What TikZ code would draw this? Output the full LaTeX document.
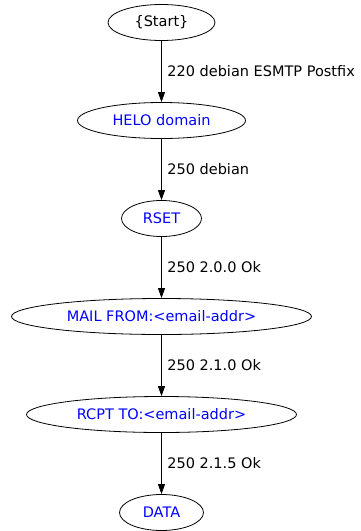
\documentclass[tikz,border=0pt]{standalone}
\usepackage{fontspec}
\setmainfont{DejaVu Sans}
\usetikzlibrary{shapes.geometric,arrows.meta}
\begin{document}
\begin{tikzpicture}[x=1pt,y=-1pt,
		trangthai/.style={draw,ellipse,inner sep=0pt,minimum height=36pt,line width=0.8pt,text=blue,font=\fontsize{14.5}{16}\selectfont},
		phanhoi/.style={anchor=west,inner sep=0pt,xshift=5.5pt,font=\fontsize{14.5}{16}\selectfont},
		muiten/.style={-{Triangle[length=10pt,width=7pt]},line width=0.8pt}]
				\useasboundingbox (0,0) rectangle (360,531);
				% Các trạng thái
				\node[trangthai,minimum width=107pt,text=black] (start) at (161.5,22.5) {\{Start\}};
				\node[trangthai,minimum width=168pt] (helo) at (161.5,120.5) {HELO domain};
				\node[trangthai,minimum width=80pt] (rset) at (161.5,218.5) {RSET};
				\node[trangthai,minimum width=300pt] (mail) at (161.5,316.5) {MAIL FROM:<email-addr>};
				\node[trangthai,minimum width=270pt] (rcpt) at (161.5,414.5) {RCPT TO:<email-addr>};
				\node[trangthai,minimum width=84pt] (data) at (161.5,512.5) {DATA};
				
				% Mũi tên và phản hồi
				\draw[muiten] (start) -- (helo) node[midway,phanhoi] {220 debian ESMTP Postfix};
				\draw[muiten] (helo) -- (rset) node[midway,phanhoi] {250 debian};
				\draw[muiten] (rset) -- (mail) node[midway,phanhoi] {250 2.0.0 Ok};
				\draw[muiten] (mail) -- (rcpt) node[midway,phanhoi] {250 2.1.0 Ok};
				\draw[muiten] (rcpt) -- (data) node[midway,phanhoi] {250 2.1.5 Ok};
			\end{tikzpicture}
\end{document}
